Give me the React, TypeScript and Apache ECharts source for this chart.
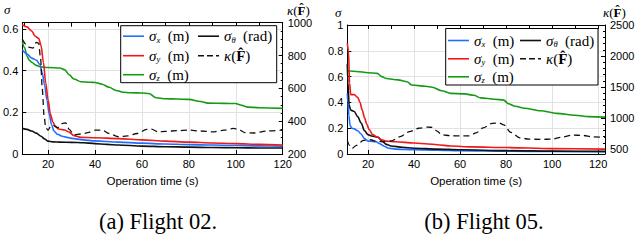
import React, { useEffect, useRef } from "react";
import * as echarts from "echarts";

// ---------- Flight 02 (left) ----------
const aTimeSy = [9, 11, 13, 14.5, 16, 17, 18, 19, 20, 21, 22, 23, 24.5, 27, 29, 31, 34, 40, 50, 60, 70, 80, 90, 100, 110, 120];
const aSy = [0.62, 0.61, 0.59, 0.565, 0.555, 0.52, 0.44, 0.34, 0.26, 0.19, 0.155, 0.135, 0.12, 0.115, 0.105, 0.088, 0.08, 0.078, 0.074, 0.068, 0.062, 0.057, 0.053, 0.05, 0.046, 0.043];
const aTimeSx = [9, 11, 13, 15, 16.5, 17.5, 18.5, 19.5, 20.5, 21.5, 22.5, 24, 26, 28, 30, 35, 40, 50, 60, 70, 80, 90, 100, 110, 120];
const aSx = [0.5, 0.48, 0.46, 0.45, 0.43, 0.39, 0.33, 0.26, 0.19, 0.14, 0.11, 0.095, 0.085, 0.08, 0.075, 0.068, 0.063, 0.057, 0.052, 0.048, 0.045, 0.043, 0.041, 0.039, 0.038];
const aTimeSt = [9, 11, 13, 15, 17, 18.5, 20, 22, 25, 30, 35, 40, 45, 50, 60, 70, 80, 90, 100, 110, 120];
const aSt = [0.123, 0.118, 0.11, 0.1, 0.085, 0.072, 0.062, 0.058, 0.057, 0.056, 0.054, 0.05, 0.046, 0.043, 0.038, 0.035, 0.033, 0.031, 0.03, 0.029, 0.029];
const aTimeSz = [9, 10, 11, 12, 13, 15, 17, 20, 25, 27, 29, 31, 34, 38, 40, 43, 46, 49, 52, 55, 60, 63, 66, 70, 75, 80, 85, 88, 95, 100, 102, 105, 110, 120];
const aSz = [0.54, 0.51, 0.47, 0.45, 0.44, 0.425, 0.418, 0.415, 0.413, 0.405, 0.38, 0.36, 0.347, 0.344, 0.343, 0.335, 0.32, 0.305, 0.296, 0.294, 0.293, 0.29, 0.27, 0.265, 0.264, 0.262, 0.252, 0.244, 0.243, 0.242, 0.235, 0.225, 0.222, 0.219];
const aTimeK = [9, 10.5, 12, 13.5, 15, 16, 16.8, 17.5, 18.3, 19, 20, 21, 22, 24, 26, 27.5, 29, 31, 34, 37, 40, 43, 46, 50, 54, 58, 62, 64, 67, 70, 75, 80, 85, 90, 95, 99, 101, 104, 108, 113, 120];
const aK = [900, 870, 850, 845, 880, 875, 780, 600, 430, 360, 345, 365, 375, 360, 385, 390, 350, 318, 322, 330, 345, 346, 325, 305, 310, 325, 350, 352, 335, 338, 342, 346, 340, 335, 345, 356, 350, 330, 328, 340, 346];

// ---------- Flight 05 (right) ----------
const bTimeSy = [11, 11.5, 12, 12.5, 14, 15.5, 16.5, 17.5, 18.5, 19.5, 20.5, 22, 24, 26, 28, 32, 40, 46, 50, 56, 65, 80, 100, 123];
const bSy = [0.86, 0.8, 0.55, 0.46, 0.46, 0.44, 0.4, 0.34, 0.28, 0.23, 0.19, 0.15, 0.13, 0.11, 0.1, 0.095, 0.085, 0.078, 0.072, 0.062, 0.055, 0.05, 0.042, 0.038];
const bTimeSx = [11, 11.3, 11.7, 12.2, 13, 14, 15.5, 17, 18.5, 20, 22, 23.5, 25, 27, 29, 32, 40, 50, 60, 80, 100, 123];
const bSx = [0.47, 0.4, 0.3, 0.22, 0.2, 0.195, 0.18, 0.155, 0.12, 0.1, 0.097, 0.095, 0.08, 0.06, 0.045, 0.038, 0.034, 0.03, 0.026, 0.022, 0.019, 0.018];
const bTimeSt = [11, 11.3, 11.8, 12.5, 14, 15.5, 17, 18.5, 20, 21.5, 23, 24.5, 26, 28, 30, 35, 40, 50, 60, 80, 100, 123];
const bSt = [0.7, 0.55, 0.38, 0.34, 0.33, 0.29, 0.24, 0.18, 0.15, 0.14, 0.135, 0.13, 0.1, 0.075, 0.062, 0.052, 0.045, 0.038, 0.033, 0.026, 0.022, 0.02];
const bTimeSz = [11, 15, 20, 24, 26, 28, 33, 37, 39, 45, 48, 52, 56, 62, 66, 69, 75, 79, 81, 84, 88, 95, 102, 110, 116, 123];
const bSz = [0.645, 0.64, 0.63, 0.625, 0.6, 0.585, 0.575, 0.56, 0.535, 0.525, 0.518, 0.49, 0.47, 0.466, 0.455, 0.435, 0.425, 0.418, 0.39, 0.37, 0.355, 0.335, 0.315, 0.3, 0.29, 0.286];
const bTimeK = [11, 12, 13, 15, 18, 21, 24, 27, 30, 34, 38, 42, 46, 48, 50, 52, 56, 60, 64, 67, 70, 74, 77, 79, 82, 86, 90, 95, 100, 104, 109, 113, 118, 123];
const bK = [640, 560, 510, 560, 640, 650, 620, 620, 630, 700, 780, 835, 853, 850, 790, 730, 715, 712, 712, 760, 840, 915, 920, 890, 770, 680, 660, 655, 660, 690, 725, 720, 695, 690];

// ---------- ticks ----------
const xTicks = [20, 40, 60, 80, 100, 120];
const xMinorTicks = [10, 30, 50, 70, 90, 110];
const bKappaTicks = [500, 1000, 1500, 2000, 2500];
const bKappaMinor = [600, 700, 800, 900, 1100, 1200, 1300, 1400, 1600, 1700, 1800, 1900, 2100, 2200, 2300, 2400];
const captions = ["(a) Flight 02.", "(b) Flight 05."];
const xName = "Operation time (s)";

const BLUE = "#1f6fff";
const RED = "#f01818";
const GREEN = "#159a15";
const BLACK = "#111111";

const SERIF = "Liberation Serif";
const SANS = "Liberation Sans";

const legendLabels: Record<string, string> = {
  sx_a: "{s|σ}{sub|x}  {u|(m)}",
  sy_a: "{s|σ}{sub|y}  {u|(m)}",
  sz_a: "{s|σ}{sub|z}  {u|(m)}",
  st_a: "{s|σ}{sub|θ}  {u|(rad)}",
  k_a: "{s|κ}{u|(}{b|F̂}{u|)}",
  sx_b: "{s|σ}{sub|x}  {u|(m)}",
  sy_b: "{s|σ}{sub|y}  {u|(m)}",
  sz_b: "{s|σ}{sub|z}  {u|(m)}",
  st_b: "{s|σ}{sub|θ}  {u|(rad)}",
  k_b: "{s|κ}{u|(}{b|F̂}{u|)}",
};

const rich = {
  s: { fontFamily: SERIF, fontStyle: "italic", fontSize: 15, lineHeight: 16, color: "#000" },
  sub: { fontFamily: SERIF, fontStyle: "italic", fontSize: 8.5, lineHeight: 16, verticalAlign: "bottom", color: "#000" },
  u: { fontFamily: SERIF, fontSize: 15, lineHeight: 16, color: "#000" },
  b: { fontFamily: SERIF, fontSize: 15, fontWeight: "bold", lineHeight: 16, color: "#000" },
};

const zip = (t: number[], v: number[]) => t.map((x, i) => [x, v[i]]);

export default function App() {
  const ref = useRef<HTMLDivElement>(null);
  useEffect(() => {
    if (!ref.current) return;
    const chart = echarts.init(ref.current, undefined, { renderer: "svg" });

    const gridA = { left: 21, top: 22.7, width: 261.7, height: 131.3 };
    const gridB = { left: 347.3, top: 25, width: 257.7, height: 129 };

    const axisLine = { show: true, onZero: false, lineStyle: { color: "#000", width: 1 } };
    const labelStyle = { fontFamily: SANS, fontSize: 11, color: "#000" };
    const split = { show: true, lineStyle: { color: "#e2e2e2", width: 1 } };
    const plain = (v: number) => String(Math.round(v * 1000) / 1000);

    const xBottom = (gi: number, min: number, max: number) => ({
      type: "value", gridIndex: gi, position: "bottom", min, max,
      axisLine, axisTick: { show: true, inside: true, length: 4, customValues: xTicks, lineStyle: { color: "#000" } },
      axisLabel: { ...labelStyle, margin: 4, customValues: xTicks, formatter: plain },
      splitLine: split,
      name: xName, nameLocation: "middle", nameGap: 21,
      nameTextStyle: { fontFamily: SANS, fontSize: 11.5, color: "#000" },
    });
    const xTop = (gi: number, min: number, max: number) => ({
      type: "value", gridIndex: gi, position: "top", min, max,
      axisLine, axisTick: { show: true, inside: true, length: 4, customValues: xTicks.concat(xMinorTicks), lineStyle: { color: "#000" } },
      axisLabel: { show: false }, splitLine: { show: false },
    });

    const series: any[] = [];
    const addLine = (name: string, xi: number, yi: number, data: number[][], color: string, dashed = false) => {
      series.push({
        name, type: "line", xAxisIndex: xi, yAxisIndex: yi, data,
        symbol: "none", smooth: 0.3, smoothMonotone: "x",
        lineStyle: { color, width: dashed ? 1.3 : 1.6, type: dashed ? [6, 4] : "solid" },
        itemStyle: { color },
        z: dashed ? 3 : 2,
      });
    };
    addLine("sz_a", 0, 0, zip(aTimeSz, aSz), GREEN);
    addLine("st_a", 0, 0, zip(aTimeSt, aSt), BLACK);
    addLine("sx_a", 0, 0, zip(aTimeSx, aSx), BLUE);
    addLine("sy_a", 0, 0, zip(aTimeSy, aSy), RED);
    addLine("k_a", 0, 1, zip(aTimeK, aK), BLACK, true);
    addLine("sz_b", 2, 2, zip(bTimeSz, bSz), GREEN);
    addLine("sx_b", 2, 2, zip(bTimeSx, bSx), BLUE);
    addLine("st_b", 2, 2, zip(bTimeSt, bSt), BLACK);
    addLine("sy_b", 2, 2, zip(bTimeSy, bSy), RED);
    addLine("k_b", 2, 3, zip(bTimeK, bK), BLACK, true);

    const dashIcon = "path://M0,0h6v1.5h-6z M9,0h6v1.5h-6z M18,0h3v1.5h-3z";
    const leg = (name: string, left: number, top: number, dashed = false) => ({
      data: [name], left, top, padding: 0, itemWidth: 21, itemHeight: 1.6, itemGap: 0,
      icon: dashed ? dashIcon : "rect",
      selectedMode: false, z: 6,
      formatter: (n: string) => legendLabels[n],
      textStyle: { rich, fontFamily: SERIF, fontSize: 15 },
    });

    const kappaTitle = "{s|κ}{u|(}{b|F̂}{u|)}";
    const titleRich = {
      s: { ...rich.s, fontSize: 13 },
      u: { ...rich.u, fontSize: 13 },
      b: { ...rich.b, fontSize: 13 },
    };

    chart.setOption({
      animation: false,
      backgroundColor: "#ffffff",
      grid: [
        { ...gridA, containLabel: false },
        { ...gridB, containLabel: false },
      ],
      xAxis: [xBottom(0, 9, 120), xTop(0, 9, 120), xBottom(1, 11, 123), xTop(1, 11, 123)],
      yAxis: [
        {
          type: "value", gridIndex: 0, position: "left", min: 0, max: 0.63, interval: 0.2,
          axisLine, axisTick: { show: true, inside: true, length: 4, lineStyle: { color: "#000" } },
          axisLabel: { ...labelStyle, margin: 4, formatter: plain }, splitLine: split,
        },
        {
          type: "value", gridIndex: 0, position: "right", min: 200, max: 1000, interval: 200,
          axisLine, axisTick: { show: true, inside: true, length: 4, lineStyle: { color: "#000" } },
          minorTick: { show: true, splitNumber: 4, length: 2, lineStyle: { color: "#000" } },
          axisLabel: { ...labelStyle, margin: 5, formatter: plain }, splitLine: { show: false },
        },
        {
          type: "value", gridIndex: 1, position: "left", min: 0, max: 1, interval: 0.2,
          axisLine, axisTick: { show: true, inside: true, length: 4, lineStyle: { color: "#000" } },
          axisLabel: { ...labelStyle, margin: 4, formatter: plain }, splitLine: split,
        },
        {
          type: "value", gridIndex: 1, position: "right", min: 420, max: 2500,
          axisLine, axisTick: { show: true, inside: true, length: 4, customValues: bKappaTicks, lineStyle: { color: "#000" } },
          axisLabel: { ...labelStyle, margin: 5, customValues: bKappaTicks, formatter: plain }, splitLine: { show: false },
        },
        {
          type: "value", gridIndex: 1, position: "right", min: 420, max: 2500,
          axisLine: { show: false }, axisTick: { show: true, inside: true, length: 2, customValues: bKappaMinor, lineStyle: { color: "#000" } },
          axisLabel: { show: false }, splitLine: { show: false },
        },
      ],
      legend: [
        leg("sx_a", 123, 28.7),
        leg("sy_a", 123, 48.2),
        leg("sz_a", 123, 67.2),
        leg("st_a", 198, 28.7),
        leg("k_a", 198, 48.2, true),
        leg("sx_b", 448, 33),
        leg("sy_b", 448, 51.3),
        leg("sz_b", 448, 69.3),
        leg("st_b", 520, 33),
        leg("k_b", 520, 51.3, true),
      ],
      graphic: [
        { type: "rect", z: 5, shape: { x: 120.7, y: 25.7, width: 156, height: 57 }, style: { fill: "#fff", stroke: "#000", lineWidth: 1 } },
        { type: "rect", z: 5, shape: { x: 445.7, y: 28.5, width: 152.3, height: 56.5 }, style: { fill: "#fff", stroke: "#000", lineWidth: 1 } },
        { type: "text", z: 5, x: 4, y: 3, style: { text: "σ", fontFamily: SERIF, fontStyle: "italic", fontSize: 13, fill: "#000" } },
        { type: "text", z: 5, x: 335, y: 6, style: { text: "σ", fontFamily: SERIF, fontStyle: "italic", fontSize: 13, fill: "#000" } },
        { type: "text", z: 5, x: 287, y: 2, style: { text: kappaTitle, rich: titleRich } },
        { type: "text", z: 5, x: 603, y: 4, style: { text: kappaTitle, rich: titleRich } },
        { type: "text", z: 5, x: 158, y: 221, style: { text: captions[0], fontFamily: SERIF, fontSize: 22.5, fill: "#000", align: "center", verticalAlign: "middle" } },
        { type: "text", z: 5, x: 484, y: 221, style: { text: captions[1], fontFamily: SERIF, fontSize: 22.5, fill: "#000", align: "center", verticalAlign: "middle" } },
      ],
      series,
    });
    return () => chart.dispose();
  }, []);
  return <div ref={ref} style={{ position: "fixed", left: 0, top: 0, width: 640, height: 246 }} />;
}
